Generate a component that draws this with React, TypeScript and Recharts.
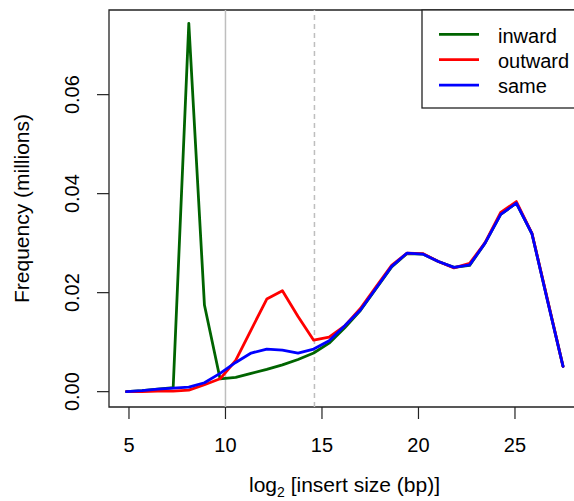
import React from "react";
import {
  LineChart,
  Line,
  XAxis,
  YAxis,
  ReferenceLine,
  ReferenceArea,
} from "recharts";

// log2 of insert size bin centres
const logSizes = [
  4.87, 5.68, 6.49, 7.29, 8.1, 8.91, 9.72, 10.53, 11.33, 12.14, 12.95, 13.76,
  14.57, 15.37, 16.18, 16.99, 17.8, 18.61, 19.41, 20.22, 21.03, 21.84, 22.65,
  23.45, 24.26, 25.07, 25.88, 26.69, 27.49,
];

// read-pair frequencies (millions) by orientation
const inward = [
  0, 0.0002, 0.0005, 0.0008, 0.0744, 0.0175, 0.0026, 0.0029, 0.0037, 0.0045,
  0.0054, 0.0065, 0.0078, 0.0098, 0.0129, 0.0164, 0.0208, 0.0252, 0.0279,
  0.0278, 0.0263, 0.0251, 0.0255, 0.03, 0.0358, 0.0381, 0.0319, 0.0184, 0.0051,
];
const outward = [
  0, 0, 0.0001, 0.0001, 0.0003, 0.0014, 0.0026, 0.0063, 0.0125, 0.0187, 0.0204,
  0.0152, 0.0104, 0.011, 0.0133, 0.0168, 0.0212, 0.0255, 0.028, 0.0279, 0.0263,
  0.025, 0.0259, 0.0301, 0.0362, 0.0384, 0.032, 0.0185, 0.0051,
];
const same = [
  0, 0.0002, 0.0005, 0.0007, 0.0009, 0.0018, 0.0037, 0.0059, 0.0078, 0.0086,
  0.0084, 0.0078, 0.0086, 0.0103, 0.0133, 0.0165, 0.0209, 0.0253, 0.028, 0.0278,
  0.0263, 0.0251, 0.0256, 0.03, 0.0358, 0.0381, 0.0319, 0.0183, 0.0051,
];

const xTicks = [5, 10, 15, 20, 25];
const yTicks = [0, 0.02, 0.04, 0.06];

// markers: 1 kb (solid) and 25 kb (dashed) in log2 units
const solidMarker = 10;
const dashedMarker = 14.61;

const xDomain: [number, number] = [3.965, 28.395];
const yDomain: [number, number] = [-0.0031, 0.0771];

const series = [
  { key: "inward", label: "inward", color: "#006400" },
  { key: "outward", label: "outward", color: "#ff0000" },
  { key: "same", label: "same", color: "#0000ff" },
];

const rows = logSizes.map((x, i) => ({
  x,
  inward: inward[i],
  outward: outward[i],
  same: same[i],
}));

const FONT = "'Liberation Sans', Arial, Helvetica, sans-serif";
const FS = 20;
const TITLE_FS = 21;

const XTick = (props: any) => {
  const { x, y, payload } = props;
  return (
    <text
      x={x}
      y={y + 32.7}
      textAnchor="middle"
      fontFamily={FONT}
      fontSize={FS}
      fill="#000"
    >
      {payload.value}
    </text>
  );
};

const YTick = (props: any) => {
  const { x, y, payload } = props;
  const bx = x - 18;
  return (
    <text
      x={bx}
      y={y}
      transform={`rotate(-90, ${bx}, ${y})`}
      textAnchor="middle"
      fontFamily={FONT}
      fontSize={FS}
      fill="#000"
    >
      {Number(payload.value).toFixed(2)}
    </text>
  );
};

export default function App() {
  return (
    <div
      style={{
        position: "absolute",
        left: 0,
        top: 0,
        width: 574,
        height: 501,
        overflow: "hidden",
        background: "#fff",
        fontFamily: FONT,
      }}
    >
      <LineChart
        width={600}
        height={501}
        data={rows}
        margin={{ top: 10, right: 19.5, left: 0, bottom: 0 }}
      >
        <XAxis
          type="number"
          dataKey="x"
          domain={xDomain}
          allowDataOverflow
          ticks={xTicks}
          interval={0}
          height={94}
          axisLine={false}
          tickSize={12}
          tickMargin={0}
          tickLine={{ stroke: "#222", strokeWidth: 1.2 }}
          tick={<XTick />}
        />
        <YAxis
          type="number"
          domain={yDomain}
          allowDataOverflow
          ticks={yTicks}
          interval={0}
          width={109}
          axisLine={false}
          tickSize={12}
          tickMargin={0}
          tickLine={{ stroke: "#222", strokeWidth: 1.2 }}
          tick={<YTick />}
        />
        <ReferenceArea
          x1={xDomain[0]}
          x2={xDomain[1]}
          y1={yDomain[0]}
          y2={yDomain[1]}
          fill="none"
          stroke="#222"
          strokeWidth={1.3}
          ifOverflow="visible"
        />
        <ReferenceLine x={solidMarker} stroke="#bebebe" strokeWidth={1.5} />
        <ReferenceLine
          x={dashedMarker}
          stroke="#bebebe"
          strokeWidth={1.5}
          strokeDasharray="5 4"
        />
        {series.map((s) => (
          <Line
            key={s.key}
            type="linear"
            dataKey={s.key}
            stroke={s.color}
            strokeWidth={2.8}
            dot={false}
            activeDot={false}
            strokeLinejoin="round"
            strokeLinecap="round"
            isAnimationActive={false}
          />
        ))}
      </LineChart>

      {/* axis titles */}
      <svg
        width={574}
        height={501}
        style={{ position: "absolute", left: 0, top: 0, pointerEvents: "none" }}
      >
        <text
          x={344.5}
          y={491.5}
          textAnchor="middle"
          fontFamily={FONT}
          fontSize={TITLE_FS}
          fill="#000"
        >
          log
          <tspan fontSize={14} dy={5}>
            2
          </tspan>
          <tspan dy={-5}> [insert size (bp)]</tspan>
        </text>
        <text
          x={29}
          y={208.5}
          transform="rotate(-90, 29, 208.5)"
          textAnchor="middle"
          fontFamily={FONT}
          fontSize={TITLE_FS}
          fill="#000"
        >
          Frequency (millions)
        </text>

        {/* legend */}
        <rect
          x={422}
          y={10}
          width={200}
          height={98}
          fill="#fff"
          stroke="#222"
          strokeWidth={1.3}
        />
        {series.map((s, i) => (
          <g key={s.key}>
            <line
              x1={439}
              x2={479}
              y1={34.3 + i * 25.4}
              y2={34.3 + i * 25.4}
              stroke={s.color}
              strokeWidth={2.8}
            />
            <text
              x={498}
              y={42.5 + i * 25.4}
              fontFamily={FONT}
              fontSize={FS}
              fill="#000"
            >
              {s.label}
            </text>
          </g>
        ))}
      </svg>
    </div>
  );
}
